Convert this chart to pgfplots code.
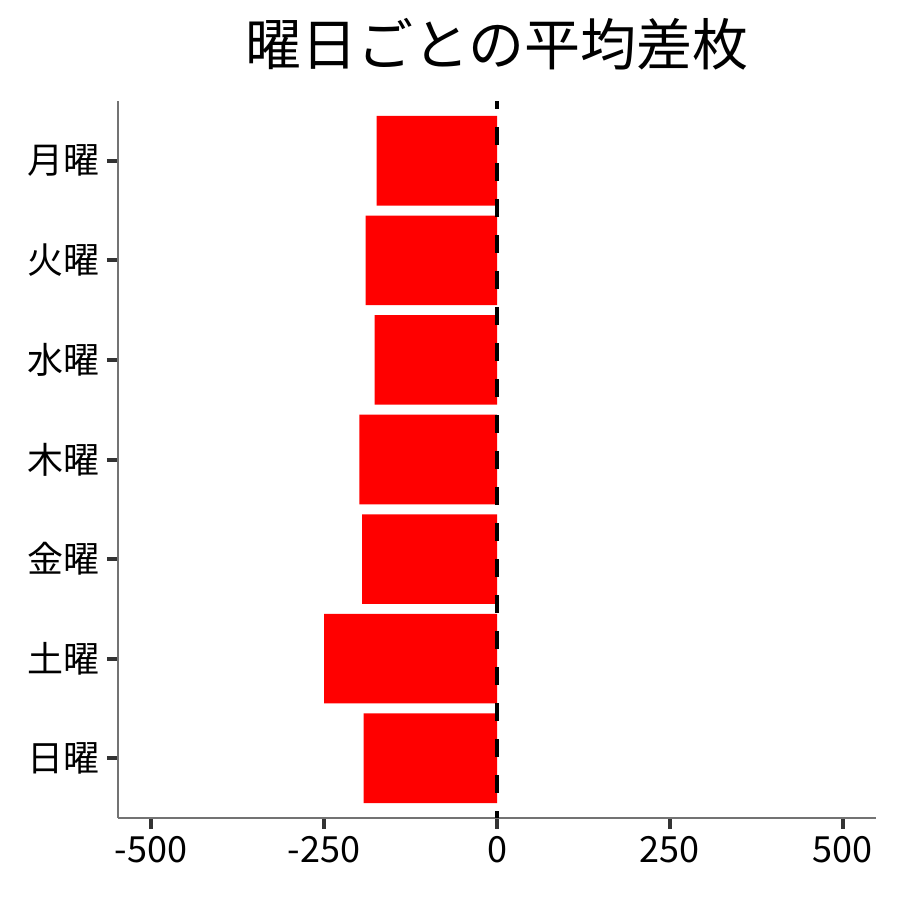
\documentclass[border=0pt]{standalone}
\usepackage{fontspec}
\setmainfont{Noto Sans CJK JP}
\usepackage{pgfplots}
\pgfplotsset{compat=1.18}
\begin{document}
\begin{tikzpicture}
\path[use as bounding box] (0,0) rectangle (450bp,450bp);
\begin{axis}[
  at={(59bp,41bp)}, anchor=south west,
  scale only axis, width=379bp, height=358.5bp,
  xmin=-548, xmax=548, ymin=0.4, ymax=7.6,
  axis lines*=left,
  axis line style={draw=black!55, line width=0.7bp},
  xtick={-500,-250,0,250,500}, xticklabels={-500,-250,0,250,500},
  ytick={1,2,3,4,5,6,7},
  yticklabels={日曜,土曜,金曜,木曜,水曜,火曜,月曜},
  tick align=outside, major tick length=5.5bp,
  tick style={line width=2bp, color=black!80},
  ticklabel style={font=\fontsize{18bp}{20bp}\selectfont, text=black},
  title={曜日ごとの平均差枚},
  title style={at={(0.5,1)}, anchor=center, yshift=22.5bp, font=\fontsize{28bp}{31bp}\selectfont},
  clip=false,
]
\addplot[xbar, bar width=0.9, bar shift=0pt, fill=red, draw=none]
  coordinates {(-174,7) (-190,6) (-177,5) (-199,4) (-195,3) (-250,2) (-193,1)};
\addplot[black, line width=2bp, dash pattern=on 9bp off 9bp, dash phase=5bp]
  coordinates {(0,7.6) (0,0.4)};
\end{axis}
\end{tikzpicture}
\end{document}
